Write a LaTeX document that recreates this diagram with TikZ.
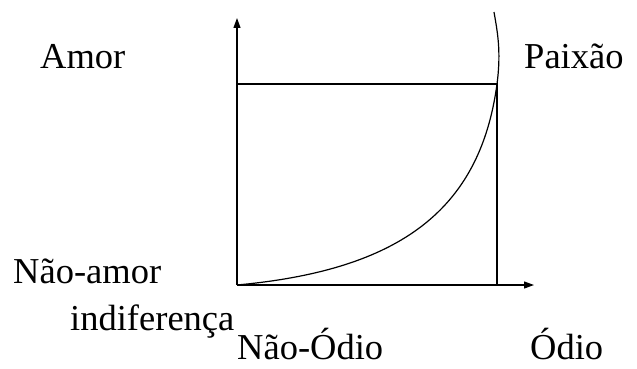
\documentclass[tikz,border=0pt]{standalone}
\usepackage{fontspec}
\setmainfont{Liberation Serif}
\usetikzlibrary{arrows.meta}
\begin{document}
\begin{tikzpicture}[x=1pt,y=-1pt,
  axis/.style={line width=1.2pt,-{Triangle[length=10pt,width=7pt]}},
  ln/.style={line width=1.2pt},
  lbl/.style={anchor=base west,inner sep=0pt,font=\fontsize{36.5}{40}\selectfont}]
\useasboundingbox (0,0) rectangle (637,369);
\coordinate (O) at (237,285);
\coordinate (Y) at (237,18);
\coordinate (X) at (534,285);
\coordinate (P) at (497,84);
\coordinate (T) at (237,84);
\coordinate (B) at (497,285);
\coordinate (C) at (494,12);
\draw[axis] (O) -- (Y);
\draw[axis] (O) -- (X);
\draw[ln] (T) -- (P) -- (B);
\draw[ln] (O) .. controls (400,270) and (480,210) .. (P)
              .. controls (501.5,50) and (497,30) .. (C);
\node[lbl] (amor) at (40,68) {Amor};
\node[lbl] (paixao) at (524,68) {Paixão};
\node[lbl] (naoamor) at (13,283) {Não-amor};
\node[lbl] (indif) at (70,330) {indiferença};
\node[lbl] (naoodio) at (237,359) {Não-Ódio};
\node[lbl] (odio) at (530,359) {Ódio};
\end{tikzpicture}
\end{document}
